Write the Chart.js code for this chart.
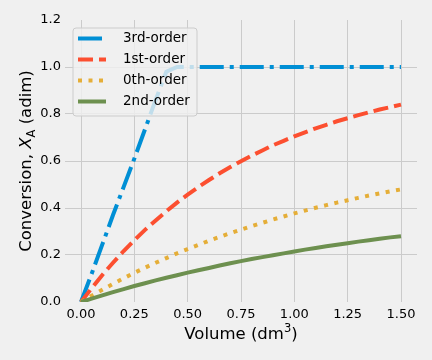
<!DOCTYPE html>
<html>
<head>
<meta charset="utf-8">
<script src="https://cdn.jsdelivr.net/npm/chart.js@4/dist/chart.umd.min.js"></script>
<style>
  html, body { margin: 0; padding: 0; background: #f0f0f0; }
</style>
</head>
<body>
<canvas id="chart" width="432" height="360"></canvas>
<script>
// Conversion vs reactor volume for several reaction orders

const volume = [0, 0.05, 0.1, 0.15, 0.2, 0.25, 0.3, 0.35, 0.4, 0.45, 0.5, 0.55, 0.6, 0.65, 0.7, 0.75,
  0.8, 0.85, 0.9, 0.95, 1.0, 1.05, 1.1, 1.15, 1.2, 1.25, 1.3, 1.35, 1.4, 1.45, 1.5];

const thirdOrder = [0, 0.12, 0.245, 0.37, 0.49, 0.61, 0.735, 0.86, 0.98, 1, 1, 1, 1, 1, 1, 1,
  1, 1, 1, 1, 1, 1, 1, 1, 1, 1, 1, 1, 1, 1, 1];
const firstOrder = [0, 0.059, 0.115, 0.167, 0.217, 0.263, 0.307, 0.347, 0.386, 0.423, 0.457, 0.489,
  0.519, 0.548, 0.574, 0.599, 0.623, 0.645, 0.667, 0.686, 0.705, 0.722, 0.739, 0.754, 0.769,
  0.782, 0.795, 0.807, 0.819, 0.829, 0.840];
const zerothOrder = [0, 0.027, 0.052, 0.077, 0.101, 0.124, 0.146, 0.167, 0.187, 0.207, 0.225, 0.243,
  0.261, 0.277, 0.293, 0.308, 0.323, 0.337, 0.351, 0.364, 0.377, 0.389, 0.401, 0.412, 0.423,
  0.433, 0.443, 0.453, 0.462, 0.471, 0.479];
const secondOrder = [0, 0.014, 0.028, 0.042, 0.055, 0.068, 0.080, 0.092, 0.103, 0.114, 0.125, 0.135,
  0.145, 0.155, 0.165, 0.174, 0.183, 0.191, 0.199, 0.207, 0.215, 0.223, 0.230, 0.237, 0.244,
  0.250, 0.257, 0.263, 0.269, 0.275, 0.280];

const seriesNames = ['3rd-order', '1st-order', '0th-order', '2nd-order'];
const seriesValues = [thirdOrder, firstOrder, zerothOrder, secondOrder];
const seriesColors = ['#008fd5', '#fc4f30', '#e5ae38', '#6d904f'];
const seriesDashes = [[24, 6, 4, 6], [15, 6], [4, 6.5], []];

const xTicks = [0, 0.25, 0.5, 0.75, 1.0, 1.25, 1.5];
const yTicks = [0, 0.2, 0.4, 0.6, 0.8, 1.0, 1.2];

Chart.defaults.font.family = "'DejaVu Sans', sans-serif";
Chart.defaults.color = '#000';

const datasets = seriesNames.map((name, i) => ({
  label: name,
  data: volume.map((v, j) => ({ x: v, y: seriesValues[i][j] })),
  borderColor: seriesColors[i],
  borderWidth: 4,
  borderDash: seriesDashes[i],
  borderCapStyle: 'butt',
  pointRadius: 0,
  fill: false,
  tension: 0,
  order: seriesNames.length - i,
}));

const background = {
  id: 'background',
  beforeDraw(chart) {
    const c = chart.ctx;
    c.save();
    c.fillStyle = '#f0f0f0';
    c.fillRect(0, 0, chart.width, chart.height);
    c.restore();
  },
};

const labelsAndLegend = {
  id: 'labelsAndLegend',
  afterDraw(chart) {
    const c = chart.ctx;
    const a = chart.chartArea;
    c.save();
    c.fillStyle = '#000';
    c.textBaseline = 'alphabetic';

    // x axis title with superscript
    const big = "16.5px 'DejaVu Sans'";
    const small = "11.5px 'DejaVu Sans'";
    c.font = big;
    const p1 = 'Volume (dm', p3 = ')';
    const w1 = c.measureText(p1).width, w3 = c.measureText(p3).width;
    c.font = small;
    const w2 = c.measureText('3').width;
    let x = (a.left + a.right) / 2 - (w1 + w2 + w3) / 2;
    const yb = 339;
    c.font = big; c.fillText(p1, x, yb); x += w1;
    c.font = small; c.fillText('3', x, yb - 7); x += w2;
    c.font = big; c.fillText(p3, x, yb);

    // y axis title with italic X and subscript A
    c.save();
    c.translate(31, (a.top + a.bottom) / 2);
    c.rotate(-Math.PI / 2);
    const q1 = 'Conversion, ', q4 = ' (adim)';
    c.font = big; const v1 = c.measureText(q1).width, v4 = c.measureText(q4).width;
    c.font = "italic 16.5px 'DejaVu Sans'"; const v2 = c.measureText('X').width;
    c.font = small; const v3 = c.measureText('A').width;
    let t = -(v1 + v2 + v3 + v4) / 2;
    c.font = big; c.fillText(q1, t, 0); t += v1;
    c.font = "italic 16.5px 'DejaVu Sans'"; c.fillText('X', t, 0); t += v2;
    c.font = small; c.fillText('A', t, 4); t += v3;
    c.font = big; c.fillText(q4, t, 0);
    c.restore();

    // legend inside the plot
    const lx = a.left + 8, ly = a.top + 8, lw = 124, lh = 88;
    c.beginPath();
    c.roundRect(lx, ly, lw, lh, 3);
    c.fillStyle = 'rgba(240,240,240,0.8)';
    c.fill();
    c.strokeStyle = '#cccccc';
    c.lineWidth = 1;
    c.stroke();
    c.font = "13.5px 'DejaVu Sans'";
    c.textBaseline = 'middle';
    seriesNames.forEach((name, i) => {
      const ry = ly + 10.5 + i * 21;
      c.beginPath();
      c.setLineDash(seriesDashes[i]);
      c.lineCap = 'butt';
      c.strokeStyle = seriesColors[i];
      c.lineWidth = 4;
      c.moveTo(lx + 5, ry);
      c.lineTo(lx + 33, ry);
      c.stroke();
      c.setLineDash([]);
      c.fillStyle = '#000';
      c.fillText(name, lx + 50, ry);
    });
    c.restore();
  },
};

const ctx = document.getElementById('chart').getContext('2d');
const chart = new Chart(ctx, {
  type: 'line',
  data: { datasets },
  plugins: [background, labelsAndLegend],
  options: {
    responsive: false,
    animation: false,
    layout: { padding: { top: 20, right: 15, left: 0, bottom: 0 } },
    plugins: { legend: { display: false }, tooltip: { enabled: false } },
    scales: {
      x: {
        type: 'linear',
        min: -0.075,
        max: 1.575,
        afterBuildTicks: (s) => { s.ticks = xTicks.map(v => ({ value: v })); },
        afterFit: (s) => { s.height = 58; },
        border: { display: false },
        grid: { color: '#cbcbcb', lineWidth: 1, drawTicks: false },
        ticks: {
          padding: 5,
          font: { size: 13 },
          color: '#000',
          maxRotation: 0,
          callback: (v) => Number(v).toFixed(2),
        },
      },
      y: {
        type: 'linear',
        min: 0,
        max: 1.2,
        afterBuildTicks: (s) => { s.ticks = yTicks.map(v => ({ value: v })); },
        afterFit: (s) => { s.width = 65; },
        border: { display: false },
        grid: {
          color: (c) => (c.tick && (c.tick.value === 0 || c.tick.value === 1.2)) ? 'rgba(0,0,0,0)' : '#cbcbcb',
          lineWidth: 1,
          drawTicks: false,
        },
        ticks: {
          padding: 4,
          font: { size: 13 },
          color: '#000',
          callback: (v) => Number(v).toFixed(1),
        },
      },
    },
  },
});
</script>
</body>
</html>
